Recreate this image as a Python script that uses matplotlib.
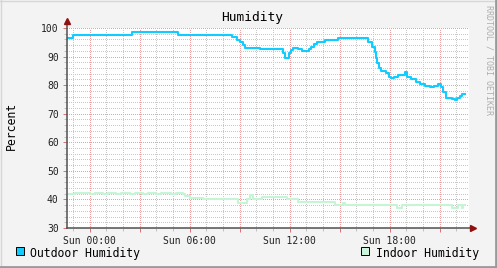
import matplotlib
matplotlib.use('Agg')
import matplotlib.pyplot as plt
from matplotlib.ticker import MultipleLocator, FuncFormatter
from matplotlib.lines import Line2D
from matplotlib.patches import Rectangle

# time in hours relative to Sun 00:00, values in percent (step data)
outdoor_t = [-1.36, -1.02, 2.52, 5.30, 8.52, 8.82, 9.02, 9.20, 9.32, 10.22,
             11.57, 11.72, 11.93, 12.05, 12.20, 12.47, 12.77, 13.13, 13.28, 13.46,
             13.64, 14.12, 14.90, 16.72, 16.94, 17.09, 17.16, 17.27, 17.34, 17.48,
             17.75, 17.93, 18.08, 18.26, 18.50, 18.89, 19.01, 19.25, 19.55, 19.82,
             20.15, 20.42, 20.66, 20.90, 21.05, 21.17, 21.35, 21.74, 21.92, 22.04,
             22.22, 22.34, 22.52]
outdoor_v = [96.5, 97.6, 98.6, 97.6, 96.8, 95.8, 95.0, 94.0, 92.9, 92.6,
             91.2, 89.6, 91.2, 92.3, 93.1, 92.6, 92.0, 92.6, 93.5, 94.4,
             95.2, 95.8, 96.4, 95.2, 93.5, 91.7, 89.4, 87.6, 86.1, 85.1,
             84.1, 82.7, 82.4, 83.0, 83.6, 84.7, 83.0, 82.2, 81.0, 80.4,
             79.8, 79.5, 79.8, 80.3, 79.5, 77.7, 75.6, 75.2, 74.8, 75.4,
             76.3, 76.8, 76.8]

indoor_t = [-1.36, -0.9, 0.0, 0.3, 0.8, 1.1, 1.6, 1.9, 2.4, 2.7,
            3.2, 3.5, 4.0, 4.3, 4.9, 5.2, 5.6, 5.72, 6.02, 6.82,
            8.30, 8.70, 8.90, 9.42, 9.60, 9.80, 10.32, 11.82, 12.52, 14.71,
            15.18, 15.32, 18.43, 18.74, 21.72, 22.12, 22.32, 22.40, 22.52]
indoor_v = [41.9, 42.4, 41.9, 42.4, 41.9, 42.4, 41.9, 42.4, 41.9, 42.4,
            41.9, 42.4, 41.9, 42.4, 41.9, 42.4, 41.9, 41.2, 40.5, 40.0,
            40.3, 40.0, 38.9, 40.0, 41.5, 40.0, 40.7, 40.2, 39.0, 38.0,
            38.8, 38.0, 37.0, 38.0, 37.0, 38.0, 37.0, 38.0, 38.0]

tick_hours = [0, 6, 12, 18]
tick_names = ['Sun 00:00', 'Sun 06:00', 'Sun 12:00', 'Sun 18:00']

W, H = 497, 268
mono = 'DejaVu Sans Mono'
bg = '#F3F3F3'

fig = plt.figure(figsize=(W / 100, H / 100), dpi=100, facecolor=bg)
ax = fig.add_axes([67 / W, 40 / H, 401.5 / W, 200 / H])
ax.set_facecolor('white')

ax.step(outdoor_t, outdoor_v, where='post', color='#11CCFF', lw=1.5, zorder=3)
ax.step(indoor_t, indoor_v, where='post', color='#C6F5D6', lw=1.5, zorder=3)

ax.set_xlim(-1.36, 22.73)
ax.set_ylim(30, 100)

ax.xaxis.set_major_locator(MultipleLocator(3))
ax.xaxis.set_minor_locator(MultipleLocator(1))
ax.yaxis.set_major_locator(MultipleLocator(10))
ax.yaxis.set_minor_locator(MultipleLocator(2))

names = dict(zip(tick_hours, tick_names))
ax.xaxis.set_major_formatter(FuncFormatter(lambda x, p: names.get(int(round(x)), '')))

ax.set_axisbelow(True)
ax.grid(which='minor', color='#C8C8C8', lw=0.72, linestyle=(0, (1, 1.6)), antialiased=False)
ax.grid(which='major', color='#F0A0A0', lw=0.72, linestyle=(0, (1, 1.6)), antialiased=False)

ax.tick_params(which='major', length=3, width=0.7, color='#E07070', direction='out', pad=3,
               labelsize=7, labelcolor='#222222')
ax.tick_params(which='minor', length=2, width=0.7, color='#C0C0C0', direction='out')
for lab in ax.get_xticklabels() + ax.get_yticklabels():
    lab.set_family(mono)

for s in ax.spines.values():
    s.set_visible(False)

# axes with arrows
ax.plot([0, 0], [0, 1.03], transform=ax.transAxes, color='#505050', lw=1.1, clip_on=False, zorder=4)
ax.plot([0, 1.01], [0, 0], transform=ax.transAxes, color='#505050', lw=1.1, clip_on=False, zorder=4)
ax.plot([0], [1.035], marker='^', ms=4, color='#901010', transform=ax.transAxes, clip_on=False, zorder=5)
ax.plot([1.012], [0], marker='>', ms=4, color='#901010', transform=ax.transAxes, clip_on=False, zorder=5)

fig.text(252 / W, 1 - 18 / H, 'Humidity', ha='center', va='center', family=mono, fontsize=9.3, color='black')
fig.text(11 / W, 1 - 126 / H, 'Percent', ha='center', va='center', rotation=90, family=mono,
         fontsize=8.3, color='black')
fig.text(489 / W, 1 - 60 / H, 'RRDTOOL / TOBI OETIKER', ha='center', va='center', rotation=270,
         family=mono, fontsize=6.0, color='#AEAEAE')

# legend
fig.add_artist(Rectangle((16 / W, 1 - 255 / H), 8 / W, 8 / H, facecolor='#11CCFF', edgecolor='black', lw=0.7))
fig.text(30 / W, 1 - 254 / H, 'Outdoor Humidity', ha='left', va='center', family=mono, fontsize=8.3)
fig.add_artist(Rectangle((361 / W, 1 - 255 / H), 8 / W, 8 / H, facecolor='#CCF5DD', edgecolor='black', lw=0.7))
fig.text(376 / W, 1 - 254 / H, 'Indoor Humidity', ha='left', va='center', family=mono, fontsize=8.3)

# shaded frame
fig.add_artist(Line2D([0, 1], [1 - 0.5 / H, 1 - 0.5 / H], color='#D6D6D6', lw=1))
fig.add_artist(Line2D([0.5 / W, 0.5 / W], [0, 1], color='#D6D6D6', lw=1))
fig.add_artist(Line2D([0, 1], [1.5 / H, 1.5 / H], color='#9A9A9A', lw=2))
fig.add_artist(Line2D([1 - 1.5 / W, 1 - 1.5 / W], [0, 1], color='#9A9A9A', lw=2))

fig.savefig('out.png', dpi=100, facecolor=bg)
